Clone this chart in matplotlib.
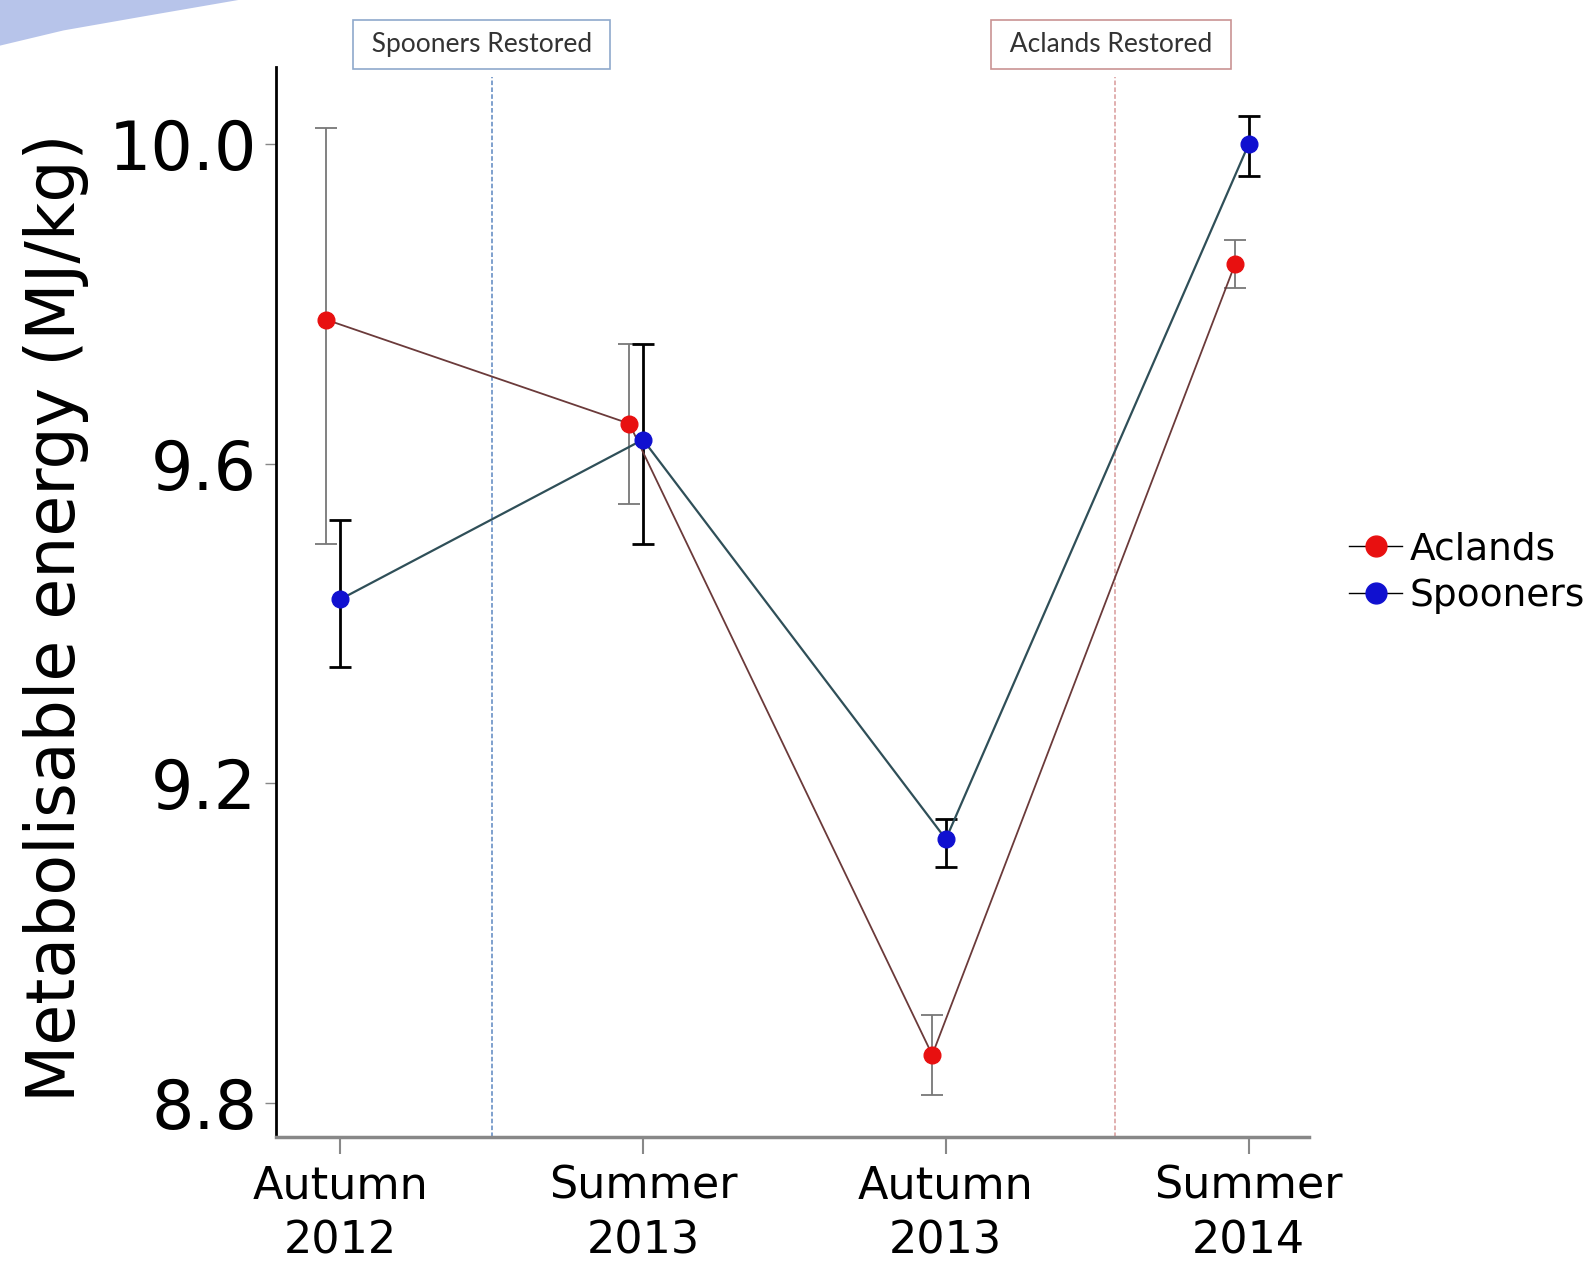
import numpy as np
import matplotlib
matplotlib.use("Agg")
import matplotlib.pyplot as plt
from matplotlib.patches import Polygon

# data
seasons = ["Autumn\n2012", "Summer\n2013", "Autumn\n2013", "Summer\n2014"]

aclands_mean = [9.78, 9.65, 8.86, 9.85]
aclands_low = [9.50, 9.55, 8.81, 9.82]
aclands_high = [10.02, 9.75, 8.91, 9.88]

spooners_mean = [9.43, 9.63, 9.13, 10.00]
spooners_low = [9.345, 9.50, 9.095, 9.96]
spooners_high = [9.53, 9.75, 9.155, 10.035]

restored_at = {"Spooners Restored": 1.5, "Aclands Restored": 3.56}

fig = plt.figure(figsize=(15.89, 12.67), dpi=100)
ax = fig.add_axes([0.174, 0.1025, 0.65, 0.845])

# light blue slide decoration top left
fig.patches.append(Polygon([(0, 1), (0.15, 1), (0.09, 0.987), (0.04, 0.976), (0, 0.964)],
                           closed=True, transform=fig.transFigure,
                           facecolor="#b7c4ea", edgecolor="none"))

x = np.arange(1, len(seasons) + 1)

a_mean = np.array(aclands_mean)
s_mean = np.array(spooners_mean)
a_err = [a_mean - np.array(aclands_low), np.array(aclands_high) - a_mean]
s_err = [s_mean - np.array(spooners_low), np.array(spooners_high) - s_mean]

dodge_a = -0.045

ax.errorbar(x + dodge_a, a_mean, yerr=a_err, fmt="none", ecolor="#777777",
            elinewidth=1.3, capsize=8, capthick=1.3, zorder=2)
ax.errorbar(x, s_mean, yerr=s_err, fmt="none", ecolor="black",
            elinewidth=2, capsize=8, capthick=2, zorder=2)

ax.plot(x + dodge_a, a_mean, color="#6b3a3a", lw=1.3, zorder=3)
ax.plot(x, s_mean, color="#2f4f58", lw=1.6, zorder=3)
ax.plot(x + dodge_a, a_mean, "o", color="#e81010", ms=12, zorder=4)
ax.plot(x, s_mean, "o", color="#1010d0", ms=12, zorder=4)

# legend handles: black line through coloured dot
h1, = ax.plot([], [], "-o", color="black", lw=1, mfc="#e81010", mec="#e81010", ms=15)
h2, = ax.plot([], [], "-o", color="black", lw=1, mfc="#1010d0", mec="#1010d0", ms=15)
fig.legend([h1, h2], ["Aclands", "Spooners"], loc="center left",
           bbox_to_anchor=(0.828, 0.548), frameon=False, fontsize=27,
           handlelength=1.4, handletextpad=0.2, labelspacing=0.3)

# restoration lines and their boxes
line_cols = {"Spooners Restored": ("#5b86c0", "#8fa9cc"),
             "Aclands Restored": ("#d99a9a", "#c99393")}
box_x = {"Spooners Restored": 0.303, "Aclands Restored": 0.699}
for name, xv in restored_at.items():
    lc, bc = line_cols[name]
    ax.axvline(xv, ymin=0, ymax=0.99, color=lc, ls=(0, (3, 1.5)), lw=1.1, zorder=1)
    fig.text(box_x[name], 0.965, " " + name + " ", ha="center", va="center",
             fontsize=19, family="Lato", color="#333333",
             bbox=dict(boxstyle="square,pad=0.45", fc="white", ec=bc, lw=1.2))

ax.set_xlim(0.79, 4.2)
ax.set_ylim(8.757, 10.097)
ax.set_xticks(x)
ax.set_xticklabels(seasons, fontsize=32, linespacing=1.35)
ax.set_yticks([8.8, 9.2, 9.6, 10.0])
ax.set_yticklabels(["8.8", "9.2", "9.6", "10.0"], fontsize=48)
ax.tick_params(axis="x", length=12, width=1.5, color="#888888", pad=8)
ax.tick_params(axis="y", length=8, width=1, color="#888888", pad=6)

ax.set_ylabel("Metabolisable energy (MJ/kg)", fontsize=48)
ax.yaxis.set_label_coords(-0.182, 0.485)

for s in ["top", "right"]:
    ax.spines[s].set_visible(False)
ax.spines["left"].set_linewidth(2)
ax.spines["left"].set_color("black")
ax.spines["bottom"].set_linewidth(2.5)
ax.spines["bottom"].set_color("#888888")

fig.savefig("out.png", dpi=100)
